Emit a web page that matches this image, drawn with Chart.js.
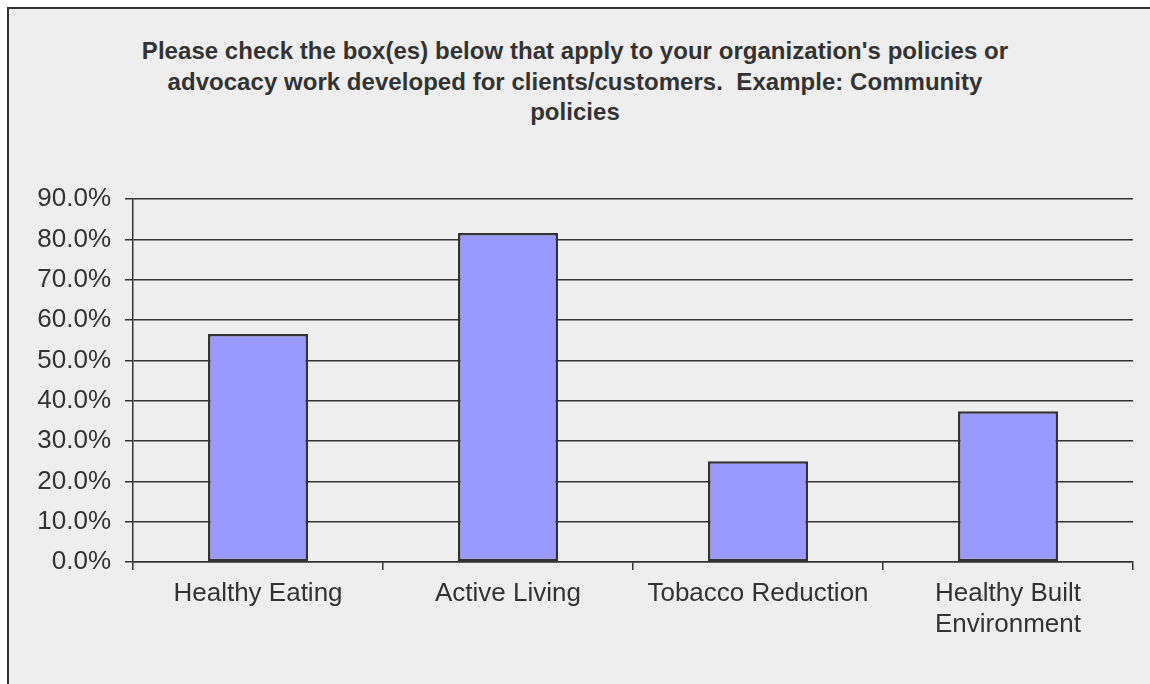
<!DOCTYPE html>
<html>
<head>
<meta charset="utf-8">
<script src="https://cdn.jsdelivr.net/npm/chart.js@4"></script>
<style>
    html, body { margin: 0; padding: 0; background: #ffffff; }
    body { width: 1150px; height: 684px; position: relative; overflow: hidden; }
    #frame {
        position: absolute; left: 7px; top: 7px; width: 1160px; height: 700px;
        background: #eeeeee; border-left: 2px solid #333333; border-top: 2px solid #333333;
    }
    #title {
        position: absolute; left: 0; top: 36px; width: 1150px; text-align: center;
        font: bold 24px "Liberation Sans", Arial, sans-serif; color: #333333;
        line-height: 30.5px; letter-spacing: 0.04px;
    }
    #wrap { position: absolute; left: 0; top: 0; width: 1150px; height: 684px; }
</style>
</head>
<body>
<div id="frame"></div>
<div id="title">Please check the box(es) below that apply to your organization's policies or<br>advocacy work developed for clients/customers.&nbsp; Example: Community<br>policies</div>
<div id="wrap"><canvas id="chart"></canvas></div>
<script>
    // data
    const categories = [
        "Healthy Eating",
        "Active Living",
        "Tobacco Reduction",
        ["Healthy Built", "Environment"]
    ];
    const percentValues = [56.5, 81.6, 25.0, 37.4];
    const yTicks = [0, 10, 20, 30, 40, 50, 60, 70, 80, 90];

    const ink = "#333333";
    const tickFont = { family: "'Liberation Sans', Arial, sans-serif", size: 26 };

    const canvas = document.getElementById("chart");

    new Chart(canvas, {
        type: "bar",
        data: {
            labels: categories,
            datasets: [{
                data: percentValues,
                backgroundColor: "#9999ff",
                borderColor: ink,
                borderWidth: 2.5,
                borderSkipped: false,
                barPercentage: 0.4,
                categoryPercentage: 1
            }]
        },
        options: {
            responsive: true,
            maintainAspectRatio: false,
            animation: false,
            layout: { padding: { top: 199, right: 17, bottom: 0, left: 0 } },
            plugins: {
                legend: { display: false },
                tooltip: { enabled: false },
                title: { display: false }
            },
            scales: {
                x: {
                    offset: true,
                    grid: {
                        offset: true,
                        drawOnChartArea: false,
                        drawTicks: true,
                        tickLength: 8,
                        color: ink,
                        lineWidth: 1.5
                    },
                    border: { display: true, color: ink, width: 1.5 },
                    ticks: {
                        color: ink,
                        font: tickFont,
                        padding: 8,
                        maxRotation: 0,
                        autoSkip: false
                    },
                    afterFit: (scale) => { scale.height = 122; }
                },
                y: {
                    min: 0,
                    max: 90,
                    afterBuildTicks: (scale) => {
                        scale.ticks = yTicks.map((v) => ({ value: v }));
                    },
                    grid: {
                        color: ink,
                        lineWidth: 1.5,
                        tickLength: 8
                    },
                    border: { display: true, color: ink, width: 1.5 },
                    ticks: {
                        color: ink,
                        font: tickFont,
                        padding: 14,
                        callback: (v) => v.toFixed(1) + "%"
                    },
                    afterFit: (scale) => { scale.width = 133; }
                }
            }
        }
    });
</script>
</body>
</html>
